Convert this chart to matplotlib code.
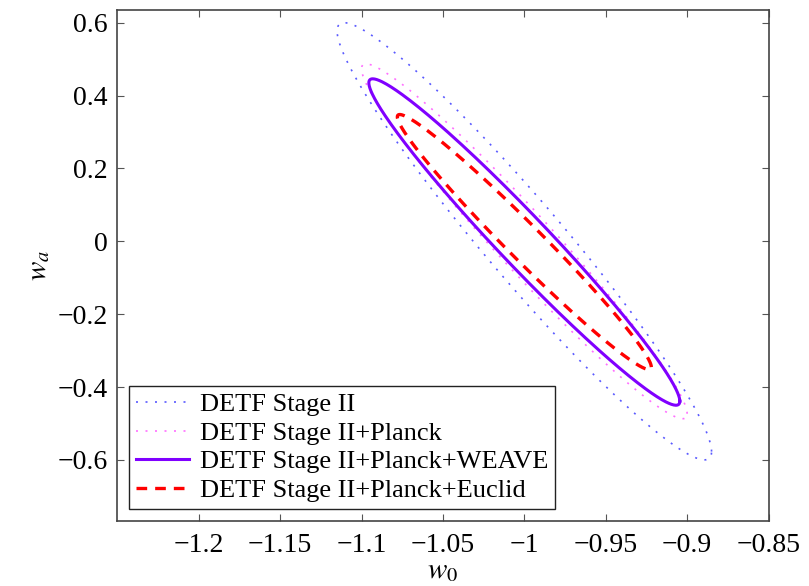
import numpy as np
import matplotlib
matplotlib.use("Agg")
import matplotlib.pyplot as plt

# Contour data: centre, extent in w0 and wa, correlation
labels = ["DETF Stage II",
          "DETF Stage II+Planck",
          "DETF Stage II+Planck+WEAVE",
          "DETF Stage II+Planck+Euclid"]
w0_centre = [-1.0, -1.0, -1.0, -1.0]
wa_centre = [0.0, 0.0, -0.002, -0.002]
w0_extent = [0.115, 0.100, 0.0955, 0.078]
wa_extent = [0.600, 0.487, 0.448, 0.350]
corr = [-0.962, -0.972, -0.975, -0.981]

xticks = [-1.2, -1.15, -1.1, -1.05, -1, -0.95, -0.9, -0.85]
xticklabels = ["\u22121.2", "\u22121.15", "\u22121.1", "\u22121.05", "\u22121",
               "\u22120.95", "\u22120.9", "\u22120.85"]
yticks = [-0.6, -0.4, -0.2, 0, 0.2, 0.4, 0.6]
yticklabels = ["\u22120.6", "\u22120.4", "\u22120.2", "0", "0.2", "0.4", "0.6"]

# styles
colors = ["#5a5aff", "#ff70ff", "#8000ff", "#ff0000"]
styles = [(0, (1.2, 4.5)), (0, (1.2, 4.5)), "-", (0, (3.2, 2.4))]
widths = [1.2, 1.2, 2.2, 2.4]

plt.rcParams['font.family'] = ['Liberation Serif', 'DejaVu Serif']
plt.rcParams['mathtext.fontset'] = 'stix'


def ellipse(cx, cy, ax, ay, rho, n=400):
    cov = np.array([[ax**2, rho*ax*ay], [rho*ax*ay, ay**2]])
    L = np.linalg.cholesky(cov)
    t = np.linspace(0, 2*np.pi, n)
    pts = L @ np.vstack([np.cos(t), np.sin(t)])
    return cx + pts[0], cy + pts[1]


fig = plt.figure(figsize=(8.09, 5.86), dpi=100)
ax = fig.add_axes([0.145, 0.1114, 0.805, 0.8716])

for i in range(len(labels)):
    x, y = ellipse(w0_centre[i], wa_centre[i], w0_extent[i], wa_extent[i], corr[i])
    ax.plot(x, y, color=colors[i], linestyle=styles[i], linewidth=widths[i],
            label=labels[i])

ax.set_xlim(-1.25, -0.85)
ax.set_ylim(-0.767, 0.635)
ax.set_xticks(xticks)
ax.set_xticklabels(xticklabels)
ax.set_yticks(yticks)
ax.set_yticklabels(yticklabels)
ax.tick_params(axis='x', pad=9)
ax.tick_params(direction='in', length=5, width=0.8, top=True, right=True,
               labelsize=20, color='#555555')
ax.tick_params(axis='y', pad=7)
for s in ax.spines.values():
    s.set_color('#444444')
    s.set_linewidth(1.2)

ax.set_xlabel("$w_0$", fontsize=21, labelpad=0)
ax.set_ylabel("$w_a$", fontsize=21, labelpad=4)

leg = ax.legend(loc='lower left', fontsize=19, handlelength=2.0,
                borderaxespad=0.45, labelspacing=0.2, borderpad=0.25,
                handletextpad=0.45, fancybox=False, framealpha=1)
leg.get_frame().set_edgecolor('#222222')
leg.get_frame().set_linewidth(1.0)

fig.savefig("out.png", dpi=100)
